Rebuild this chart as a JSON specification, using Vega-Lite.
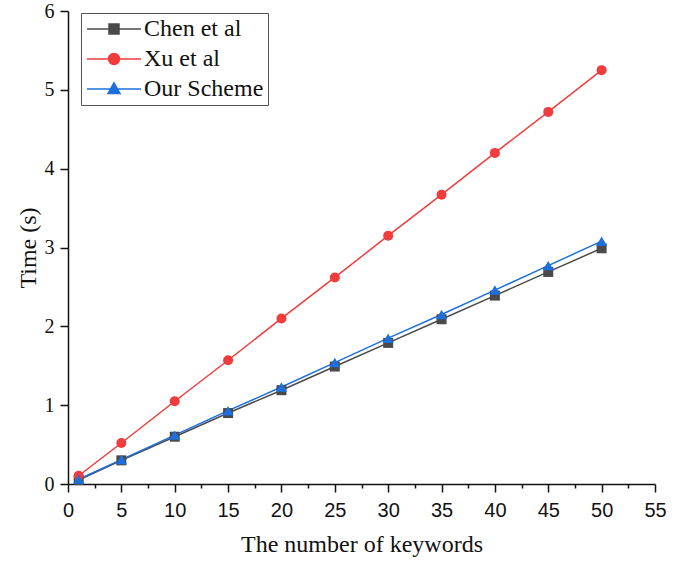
{
  "$schema": "https://vega.github.io/schema/vega-lite/v6.json",
  "width": 587,
  "height": 473,
  "autosize": {"type": "none"},
  "padding": {"left": 68, "top": 11, "right": 36, "bottom": 80},
  "background": "white",
  "config": {"view": {"stroke": null}},
  "data": {
    "values": [
      {"k": 1, "t": 0.05, "s": "Chen et al"},
      {"k": 5, "t": 0.30, "s": "Chen et al"},
      {"k": 10, "t": 0.60, "s": "Chen et al"},
      {"k": 15, "t": 0.90, "s": "Chen et al"},
      {"k": 20, "t": 1.19, "s": "Chen et al"},
      {"k": 25, "t": 1.49, "s": "Chen et al"},
      {"k": 30, "t": 1.79, "s": "Chen et al"},
      {"k": 35, "t": 2.09, "s": "Chen et al"},
      {"k": 40, "t": 2.39, "s": "Chen et al"},
      {"k": 45, "t": 2.69, "s": "Chen et al"},
      {"k": 50, "t": 2.99, "s": "Chen et al"},
      {"k": 1, "t": 0.105, "s": "Xu et al"},
      {"k": 5, "t": 0.52, "s": "Xu et al"},
      {"k": 10, "t": 1.05, "s": "Xu et al"},
      {"k": 15, "t": 1.57, "s": "Xu et al"},
      {"k": 20, "t": 2.10, "s": "Xu et al"},
      {"k": 25, "t": 2.62, "s": "Xu et al"},
      {"k": 30, "t": 3.15, "s": "Xu et al"},
      {"k": 35, "t": 3.67, "s": "Xu et al"},
      {"k": 40, "t": 4.20, "s": "Xu et al"},
      {"k": 45, "t": 4.72, "s": "Xu et al"},
      {"k": 50, "t": 5.25, "s": "Xu et al"},
      {"k": 1, "t": 0.06, "s": "Our Scheme"},
      {"k": 5, "t": 0.31, "s": "Our Scheme"},
      {"k": 10, "t": 0.62, "s": "Our Scheme"},
      {"k": 15, "t": 0.93, "s": "Our Scheme"},
      {"k": 20, "t": 1.23, "s": "Our Scheme"},
      {"k": 25, "t": 1.54, "s": "Our Scheme"},
      {"k": 30, "t": 1.85, "s": "Our Scheme"},
      {"k": 35, "t": 2.15, "s": "Our Scheme"},
      {"k": 40, "t": 2.46, "s": "Our Scheme"},
      {"k": 45, "t": 2.77, "s": "Our Scheme"},
      {"k": 50, "t": 3.08, "s": "Our Scheme"}
    ]
  },
  "encoding": {
    "x": {
      "field": "k", "type": "quantitative",
      "scale": {"domain": [0, 55], "nice": false, "zero": false},
      "axis": {
        "title": "The number of keywords",
        "titleFont": "Liberation Serif", "titleFontSize": 24, "titleFontWeight": "normal", "titleColor": "#111",
        "titlePadding": 12,
        "values": [0, 2.5, 5, 7.5, 10, 12.5, 15, 17.5, 20, 22.5, 25, 27.5, 30, 32.5, 35, 37.5, 40, 42.5, 45, 47.5, 50, 52.5, 55],
        "labelExpr": "datum.value % 5 === 0 ? datum.label : ''",
        "labelOverlap": false,
        "labelFont": "Liberation Sans", "labelFontSize": 20, "labelColor": "#111",
        "labelPadding": 8,
        "labelFlush": false,
        "tickSize": {"condition": {"test": "datum.value % 5 === 0", "value": 8}, "value": 4},
        "tickColor": "#111", "tickWidth": 1.5,
        "domainColor": "#111", "domainWidth": 1.5,
        "grid": false
      }
    },
    "y": {
      "field": "t", "type": "quantitative",
      "scale": {"domain": [0, 6], "nice": false},
      "axis": {
        "title": "Time (s)",
        "titleFont": "Liberation Serif", "titleFontSize": 24, "titleFontWeight": "normal", "titleColor": "#111",
        "titlePadding": 4,
        "values": [0, 0.5, 1, 1.5, 2, 2.5, 3, 3.5, 4, 4.5, 5, 5.5, 6],
        "format": "d",
        "labelExpr": "datum.value % 1 === 0 ? datum.label : ''",
        "labelOverlap": false,
        "labelFont": "Liberation Serif", "labelFontSize": 20, "labelColor": "#111",
        "labelPadding": 6,
        "labelFlush": false,
        "tickSize": {"condition": {"test": "datum.value % 1 === 0", "value": 8}, "value": 4},
        "tickColor": "#111", "tickWidth": 1.5,
        "domainColor": "#111", "domainWidth": 1.5,
        "grid": false
      }
    }
  },
  "layer": [
    {
      "mark": {"type": "line", "strokeWidth": 1.5},
      "encoding": {
        "stroke": {
          "field": "s", "type": "nominal",
          "scale": {"domain": ["Chen et al", "Xu et al", "Our Scheme"], "range": ["#4a4a4a", "#f03c3c", "#1c6fdd"]}
        },
        "detail": {"field": "s"}
      }
    },
    {
      "mark": {"type": "point", "filled": true, "opacity": 0, "size": 400, "strokeWidth": 1.5},
      "encoding": {
        "color": {
          "field": "s", "type": "nominal",
          "scale": {"domain": ["Chen et al", "Xu et al", "Our Scheme"], "range": ["#4a4a4a", "#f03c3c", "#1c6fdd"]},
          "legend": {
            "title": null,
            "orient": "none",
            "legendX": 13,
            "legendY": 2,
            "strokeColor": "#555",
            "padding": 4,
            "offset": 0,
            "symbolSize": 400,
            "symbolStrokeWidth": 1.5,
            "symbolOpacity": 1,
            "labelFont": "Liberation Serif",
            "labelFontSize": 24,
            "labelColor": "#111",
            "labelOffset": 35,
            "rowPadding": 6,
            "encode": {
              "symbols": {
                "update": {
                  "fill": {"scale": "color", "field": "value"},
                  "fillOpacity": {"value": 1}
                }
              }
            }
          }
        },
        "stroke": {
          "field": "s", "type": "nominal",
          "scale": {"domain": ["Chen et al", "Xu et al", "Our Scheme"], "range": ["#4a4a4a", "#f03c3c", "#1c6fdd"]}
        },
        "shape": {
          "field": "s", "type": "nominal",
          "scale": {"domain": ["Chen et al", "Xu et al", "Our Scheme"], "range": ["M-1,0H4.4M1.2,-0.5H2.2V0.5H1.2Z", "M-1,0H4.4M2.25,0A0.55,0.55 0 1,1 1.15,0A0.55,0.55 0 1,1 2.25,0Z", "M-1,0H4.4M1.7,-0.62L2.3,0.45H1.1Z"]}
        }
      }
    },
    {
      "transform": [{"filter": "datum.s === 'Chen et al'"}],
      "mark": {"type": "point", "filled": true, "opacity": 1, "size": 100, "shape": "square", "fill": "#4a4a4a"}
    },
    {
      "transform": [{"filter": "datum.s === 'Xu et al'"}],
      "mark": {"type": "point", "filled": true, "opacity": 1, "size": 100, "shape": "circle", "fill": "#f03c3c"}
    },
    {
      "transform": [{"filter": "datum.s === 'Our Scheme'"}],
      "mark": {"type": "point", "filled": true, "opacity": 1, "size": 120, "shape": "triangle-up", "fill": "#1c6fdd"}
    }
  ]
}
